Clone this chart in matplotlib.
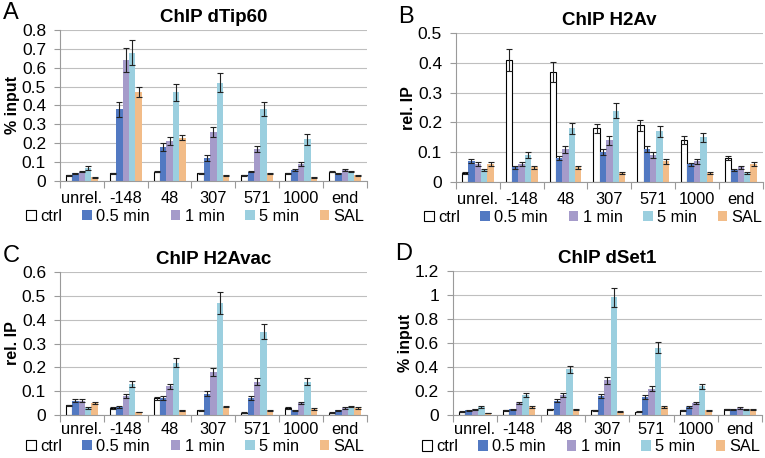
"""
ChIP time course: four panels of grouped bars (ctrl / 0.5 / 1 / 5 min / SAL)
across amplicon positions, Excel-style.
"""

import matplotlib
matplotlib.use("Agg")
import matplotlib.pyplot as plt
import numpy as np
from matplotlib.ticker import FixedLocator, FuncFormatter

plt.rcParams["font.family"] = ["Liberation Sans", "DejaVu Sans"]

positions = ["unrel.", "-148", "48", "307", "571", "1000", "end"]
series = ["ctrl", "0.5 min", "1 min", "5 min", "SAL"]
colors = ["white", "#5279C2", "#A59BCA", "#9BCFDF", "#F2BC88"]

# panel A: ChIP dTip60 (% input), rows = series, cols = positions
tip60 = [
    [0.03, 0.04, 0.05, 0.04, 0.03, 0.04, 0.05],
    [0.04, 0.38, 0.18, 0.12, 0.05, 0.06, 0.04],
    [0.05, 0.64, 0.21, 0.26, 0.17, 0.09, 0.06],
    [0.07, 0.68, 0.47, 0.52, 0.38, 0.22, 0.05],
    [0.02, 0.47, 0.23, 0.03, 0.04, 0.02, 0.03],
]
tip60_err = [
    [0.003, 0.003, 0.004, 0.003, 0.003, 0.003, 0.004],
    [0.004, 0.040, 0.020, 0.015, 0.005, 0.006, 0.004],
    [0.005, 0.063, 0.022, 0.025, 0.015, 0.008, 0.006],
    [0.010, 0.068, 0.045, 0.050, 0.036, 0.027, 0.005],
    [0.002, 0.028, 0.013, 0.002, 0.003, 0.002, 0.003],
]

# panel B: ChIP H2Av (rel. IP)
h2av = [
    [0.03, 0.41, 0.37, 0.18, 0.19, 0.14, 0.08],
    [0.07, 0.05, 0.08, 0.10, 0.11, 0.06, 0.04],
    [0.06, 0.06, 0.11, 0.14, 0.09, 0.07, 0.05],
    [0.04, 0.09, 0.18, 0.24, 0.17, 0.15, 0.03],
    [0.06, 0.05, 0.05, 0.03, 0.07, 0.03, 0.06],
]
h2av_err = [
    [0.003, 0.037, 0.033, 0.016, 0.017, 0.013, 0.007],
    [0.007, 0.005, 0.007, 0.010, 0.010, 0.005, 0.004],
    [0.006, 0.006, 0.012, 0.016, 0.010, 0.008, 0.005],
    [0.004, 0.010, 0.018, 0.025, 0.018, 0.016, 0.003],
    [0.006, 0.005, 0.005, 0.003, 0.008, 0.003, 0.006],
]

# panel C: ChIP H2Avac (rel. IP)
h2avac = [
    [0.04, 0.03, 0.07, 0.02, 0.01, 0.03, 0.01],
    [0.06, 0.035, 0.07, 0.09, 0.07, 0.02, 0.02],
    [0.06, 0.08, 0.12, 0.18, 0.14, 0.05, 0.03],
    [0.03, 0.13, 0.22, 0.47, 0.35, 0.14, 0.035],
    [0.05, 0.012, 0.02, 0.035, 0.02, 0.025, 0.03],
]
h2avac_err = [
    [0.003, 0.003, 0.006, 0.002, 0.001, 0.003, 0.001],
    [0.006, 0.004, 0.008, 0.010, 0.008, 0.002, 0.002],
    [0.006, 0.008, 0.012, 0.018, 0.014, 0.005, 0.003],
    [0.003, 0.013, 0.018, 0.045, 0.032, 0.015, 0.003],
    [0.005, 0.001, 0.002, 0.003, 0.002, 0.003, 0.003],
]

# panel D: ChIP dSet1 (% input)
set1 = [
    [0.03, 0.04, 0.05, 0.04, 0.03, 0.04, 0.05],
    [0.04, 0.05, 0.12, 0.16, 0.15, 0.07, 0.05],
    [0.05, 0.10, 0.17, 0.29, 0.22, 0.10, 0.06],
    [0.07, 0.17, 0.38, 0.98, 0.56, 0.24, 0.05],
    [0.02, 0.07, 0.05, 0.03, 0.07, 0.04, 0.05],
]
set1_err = [
    [0.003, 0.003, 0.004, 0.003, 0.003, 0.003, 0.004],
    [0.004, 0.005, 0.012, 0.016, 0.015, 0.007, 0.005],
    [0.005, 0.010, 0.015, 0.027, 0.020, 0.010, 0.006],
    [0.007, 0.016, 0.032, 0.080, 0.046, 0.022, 0.005],
    [0.002, 0.008, 0.005, 0.003, 0.008, 0.004, 0.005],
]

W, H = 765, 458

# letter, title, ylabel, values, errors, ymax, ystep, axes rect,
# legend x / gap below axes (px), category label pad
panels = [
    ("A", "ChIP dTip60", "% input", tip60, tip60_err, 0.8, 0.1,
     [0.0784, 0.6048, 0.401, 0.330], 26, 28, 7),
    ("B", "ChIP H2Av", "rel. IP", h2av, h2av_err, 0.5, 0.1,
     [0.596, 0.6026, 0.401, 0.325], 424, 28, 7),
    ("C", "ChIP H2Avac", "rel. IP", h2avac, h2avac_err, 0.6, 0.1,
     [0.0784, 0.0939, 0.401, 0.312], 26, 24, 5),
    ("D", "ChIP dSet1", "% input", set1, set1_err, 1.2, 0.2,
     [0.592, 0.0935, 0.404, 0.315], 422, 24, 5),
]

BAR_W = 0.146
GRID = "#BFBFBF"
AXIS = "#9A9A9A"


def draw_panel(fig, letter, title, ylabel, vals, errs, ymax, ystep, rect,
               leg_x, leg_gap, xpad):
    ax = fig.add_axes(rect)
    x = np.arange(len(positions))
    for i, (name, col) in enumerate(zip(series, colors)):
        off = (i - 2) * BAR_W
        edge = "black" if i == 0 else "none"
        ax.bar(x + off, vals[i], BAR_W, color=col, edgecolor=edge,
               linewidth=0.8, label=name, zorder=2)
        ax.errorbar(x + off, vals[i], yerr=errs[i], fmt="none",
                    ecolor="#222222", elinewidth=0.8, capsize=2.3,
                    capthick=0.8, zorder=3)

    ax.set_xlim(-0.5, len(positions) - 0.5)
    ax.set_ylim(0, ymax)
    ax.set_yticks(np.arange(0, ymax + ystep / 2, ystep))
    ax.yaxis.set_major_formatter(FuncFormatter(lambda v, p: f"{v:g}"))
    ax.grid(axis="y", color=GRID, linewidth=0.8, zorder=0)
    ax.set_axisbelow(True)

    ax.set_xticks(x)
    ax.set_xticklabels(positions)
    ax.xaxis.set_minor_locator(FixedLocator(np.arange(-0.5, len(positions), 1.0)))
    ax.tick_params(axis="x", which="major", length=0, pad=xpad, labelsize=11.8)
    ax.tick_params(axis="x", which="minor", length=5, color=AXIS, width=0.8)
    ax.tick_params(axis="y", length=4, color=AXIS, width=0.8, pad=6,
                   labelsize=12.5)

    for s in ("top", "right"):
        ax.spines[s].set_visible(False)
    for s in ("left", "bottom"):
        ax.spines[s].set_color(AXIS)
        ax.spines[s].set_linewidth(0.8)

    ax.set_ylabel(ylabel, fontsize=11.5, fontweight="bold", labelpad=1)
    ax.set_title(title, fontsize=13.5, fontweight="bold", pad=6)

    # legend row under the category labels
    leg_y = rect[1] - leg_gap / H
    ax.legend(loc="upper left", bbox_to_anchor=(leg_x / W, leg_y),
              bbox_transform=fig.transFigure, ncol=5, frameon=False,
              fontsize=11.8, handlelength=0.6, handleheight=0.6,
              handletextpad=0.25, columnspacing=1.25, borderaxespad=0,
              borderpad=0)

    # panel letter in the top-left corner
    fig.text(rect[0] - 0.075, rect[1] + rect[3] + 0.012, letter,
             fontsize=17, va="bottom", ha="left")
    return ax


def main():
    fig = plt.figure(figsize=(W / 100, H / 100), dpi=100)
    for p in panels:
        draw_panel(fig, *p)
    fig.savefig("out.png", dpi=100)


if __name__ == "__main__":
    main()
